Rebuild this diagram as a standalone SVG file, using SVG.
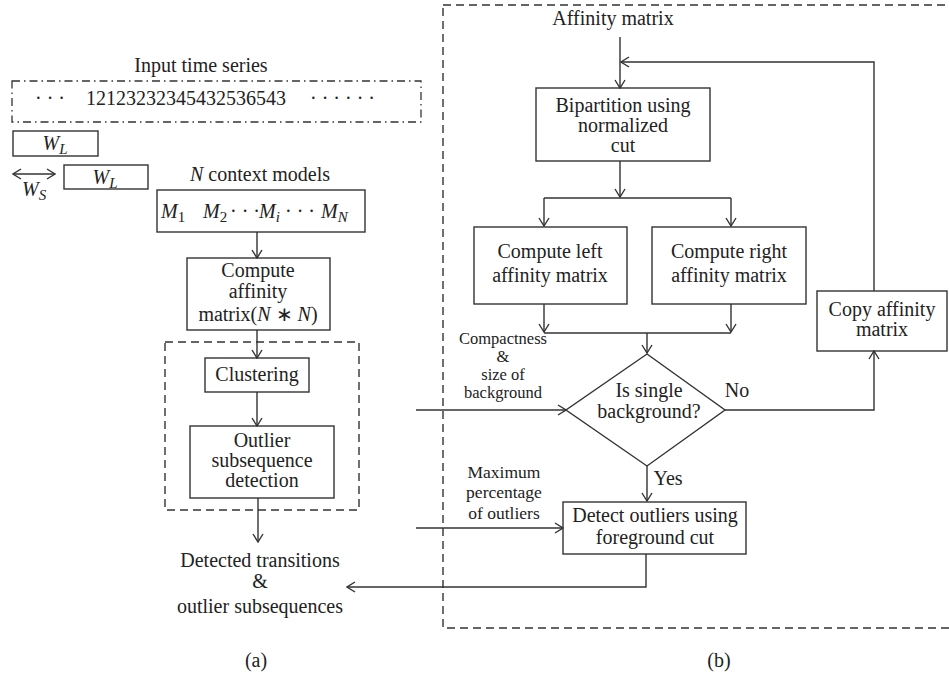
<svg xmlns="http://www.w3.org/2000/svg" width="949" height="676" viewBox="0 0 949 676">
  <style>
    text { font-family: "Liberation Serif", "Times New Roman", serif; font-size: 20px; fill: #222; }
    .c { text-anchor: middle; }
    .i { font-style: italic; }
    .s { font-size: 17.5px; }
    .t { font-size: 16.5px; }
    .box { fill: #fff; stroke: #333; stroke-width: 1.4; }
    .ln { fill: none; stroke: #333; stroke-width: 1.4; }
    .dash { fill: none; stroke: #333; stroke-width: 1.4; stroke-dasharray: 8 5; }
    .dashdot { fill: none; stroke: #333; stroke-width: 1.3; stroke-dasharray: 8 4 1.5 4; }
  </style>
  <defs>
    <marker id="arr" viewBox="0 0 10 12" refX="9" refY="6" markerWidth="10" markerHeight="12" markerUnits="userSpaceOnUse" orient="auto-start-reverse">
      <path d="M1,1 L9,6 L1,11" fill="none" stroke="#333" stroke-width="1.4"/>
    </marker>
  </defs>

  <!-- (a) input series and windows -->
  <g id="input-series">
    <text class="c" x="201" y="72" font-size="21">Input time series</text>
    <rect class="dashdot" x="12" y="81" width="409" height="41"/>
    <text x="35" y="105">· · ·</text>
    <text x="86" y="105" textLength="200">12123232345432536543</text>
    <text x="310" y="105">· · · · · ·</text>
  </g>
  <g id="window-1">
    <rect class="box" x="13" y="131" width="85" height="25"/>
    <text class="c" x="55" y="150"><tspan class="i">W</tspan><tspan class="i" font-size="15" dy="4">L</tspan></text>
  </g>
  <g id="window-2">
    <rect class="box" x="64" y="165" width="84" height="24"/>
    <text class="c" x="105" y="184"><tspan class="i">W</tspan><tspan class="i" font-size="15" dy="4">L</tspan></text>
  </g>
  <g id="window-step">
    <line class="ln" x1="13" y1="174" x2="55" y2="174" marker-start="url(#arr)" marker-end="url(#arr)"/>
    <text x="22" y="196"><tspan class="i">W</tspan><tspan class="i" font-size="15" dy="4">S</tspan></text>
  </g>
  <g id="context-models">
    <text class="c" x="260" y="181" font-size="21"><tspan class="i">N</tspan> context models</text>
    <rect class="box" x="157" y="190" width="208" height="42"/>
    <text x="161" y="218"><tspan class="i">M</tspan><tspan font-size="15" dy="4">1</tspan></text>
    <text x="203" y="218"><tspan class="i">M</tspan><tspan font-size="15" dy="4">2</tspan></text>
    <text x="230" y="218">· · ·</text>
    <text x="259" y="218"><tspan class="i">M</tspan><tspan class="i" font-size="15" dy="4">i</tspan></text>
    <text x="285" y="218">· · ·</text>
    <text x="321" y="218"><tspan class="i">M</tspan><tspan class="i" font-size="15" dy="4">N</tspan></text>
  </g>
  <g id="compute-affinity">
    <rect class="box" x="187" y="258" width="143" height="72"/>
    <text class="c" x="258" y="277">Compute</text>
    <text class="c" x="258" y="298">affinity</text>
    <text class="c" x="258" y="321">matrix(<tspan class="i">N</tspan> ∗ <tspan class="i">N</tspan>)</text>
  </g>
  <g id="clustering-group">
    <rect class="dash" x="165" y="342" width="194" height="168"/>
  </g>
  <g id="clustering">
    <rect class="box" x="205" y="358" width="104" height="34"/>
    <text class="c" x="257" y="381" font-size="21">Clustering</text>
  </g>
  <g id="outlier-detection">
    <rect class="box" x="190" y="426" width="144" height="72"/>
    <text class="c" x="262" y="447">Outlier</text>
    <text class="c" x="262" y="467">subsequence</text>
    <text class="c" x="262" y="487">detection</text>
  </g>
  <g id="output">
    <text class="c" x="260" y="567" font-size="21">Detected transitions</text>
    <text class="c" x="260" y="588" font-size="21">&amp;</text>
    <text class="c" x="260" y="613" font-size="21">outlier subsequences</text>
  </g>
  <text class="c" x="256" y="667">(a)</text>

  <!-- (b) bipartition loop -->
  <g id="panel-b">
    <rect class="dash" x="443" y="5" width="520" height="623"/>
  </g>
  <g id="affinity-input">
    <text class="c" x="613" y="25" font-size="21">Affinity matrix</text>
  </g>
  <g id="bipartition">
    <rect class="box" x="536" y="88" width="174" height="73"/>
    <text class="c" x="623" y="112">Bipartition using</text>
    <text class="c" x="623" y="132">normalized</text>
    <text class="c" x="623" y="152">cut</text>
  </g>
  <g id="left-affinity">
    <rect class="box" x="474" y="227" width="153" height="77"/>
    <text class="c" x="550" y="258" font-size="21">Compute left</text>
    <text class="c" x="550" y="282" font-size="21">affinity matrix</text>
  </g>
  <g id="right-affinity">
    <rect class="box" x="652" y="227" width="154" height="77"/>
    <text class="c" x="729" y="258" font-size="21">Compute right</text>
    <text class="c" x="729" y="282" font-size="21">affinity matrix</text>
  </g>
  <g id="copy-affinity">
    <rect class="box" x="817" y="291" width="130" height="60"/>
    <text class="c" x="882" y="316">Copy affinity</text>
    <text class="c" x="882" y="336">matrix</text>
  </g>
  <g id="single-background">
    <polygon class="box" points="647,354 725,410 647,466 566,410"/>
    <text class="c" x="649" y="397">Is single</text>
    <text class="c" x="649" y="418">background?</text>
  </g>
  <g id="compactness-input">
    <text class="c t" x="503" y="344">Compactness</text>
    <text class="c t" x="503" y="362">&amp;</text>
    <text class="c t" x="503" y="380">size of</text>
    <text class="c t" x="503" y="398">background</text>
  </g>
  <g id="detect-outliers">
    <rect class="box" x="563" y="502" width="183" height="52"/>
    <text class="c" x="655" y="522">Detect outliers using</text>
    <text class="c" x="655" y="544">foreground cut</text>
  </g>
  <g id="percentage-input">
    <text class="c s" x="504" y="478">Maximum</text>
    <text class="c s" x="504" y="498">percentage</text>
    <text class="c s" x="504" y="519">of outliers</text>
  </g>
  <text class="c" x="719" y="667">(b)</text>

  <!-- connectors -->
  <g id="connectors">
    <line class="ln" x1="257" y1="232" x2="257" y2="258" marker-end="url(#arr)"/>
    <line class="ln" x1="257" y1="330" x2="257" y2="358" marker-end="url(#arr)"/>
    <line class="ln" x1="257" y1="392" x2="257" y2="426" marker-end="url(#arr)"/>
    <line class="ln" x1="258" y1="498" x2="258" y2="542" marker-end="url(#arr)"/>
    <line class="ln" x1="620" y1="37" x2="620" y2="88" marker-end="url(#arr)"/>
    <polyline class="ln" points="874,291 874,62 621,62" marker-end="url(#arr)"/>
    <line class="ln" x1="620" y1="161" x2="620" y2="197" marker-end="url(#arr)"/>
    <line class="ln" x1="544" y1="198" x2="731" y2="198"/>
    <line class="ln" x1="544" y1="198" x2="544" y2="226" marker-end="url(#arr)"/>
    <line class="ln" x1="731" y1="198" x2="731" y2="226" marker-end="url(#arr)"/>
    <line class="ln" x1="544" y1="304" x2="544" y2="332" marker-end="url(#arr)"/>
    <line class="ln" x1="731" y1="304" x2="731" y2="332" marker-end="url(#arr)"/>
    <line class="ln" x1="544" y1="333" x2="731" y2="333"/>
    <line class="ln" x1="647" y1="333" x2="647" y2="353" marker-end="url(#arr)"/>
    <line class="ln" x1="416" y1="410" x2="566" y2="410" marker-end="url(#arr)"/>
    <polyline class="ln" points="725,410 874,410 874,351" marker-end="url(#arr)"/>
    <line class="ln" x1="647" y1="466" x2="647" y2="501" marker-end="url(#arr)"/>
    <line class="ln" x1="416" y1="528" x2="563" y2="528" marker-end="url(#arr)"/>
    <polyline class="ln" points="646,554 646,587 347,587" marker-end="url(#arr)"/>
  </g>
  <g id="edge-labels">
    <text class="c" x="737" y="397">No</text>
    <text class="c" x="668" y="485">Yes</text>
  </g>
</svg>
